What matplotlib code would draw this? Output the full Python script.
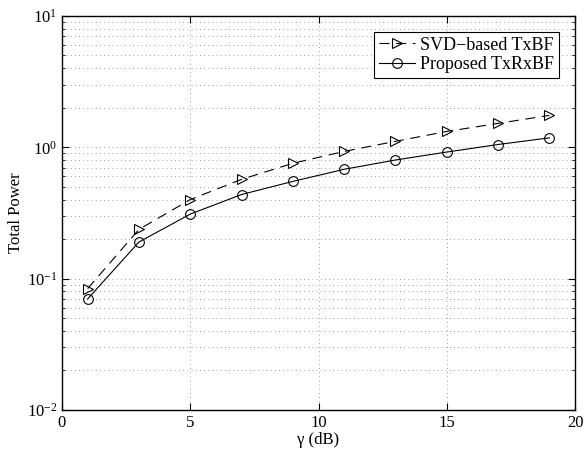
import matplotlib
matplotlib.use('Agg')
import matplotlib.pyplot as plt
from matplotlib.ticker import LogLocator, NullFormatter

plt.rcParams['font.family'] = ['Liberation Serif', 'DejaVu Serif']
plt.rcParams['mathtext.fontset'] = 'stix'

#------------------------------------------------------------------------------
gamma_db = [1, 3, 5, 7, 9, 11, 13, 15, 17, 19]
svd_txbf = [0.084, 0.237, 0.40, 0.57, 0.755, 0.93, 1.11, 1.32, 1.52, 1.75]
proposed_txrxbf = [0.070, 0.19, 0.31, 0.437, 0.55, 0.68, 0.80, 0.92, 1.05, 1.18]

#------------------------------------------------------------------------------
fig = plt.figure(figsize=(5.88, 4.55), dpi=100)
ax = fig.add_axes([0.1054, 0.0989, 0.8726, 0.8661])

ax.semilogy(gamma_db, svd_txbf, 'k', linestyle=(0, (9, 6)), marker='>', markersize=7,
            markerfacecolor='none', markeredgewidth=0.8, linewidth=0.8,
            label='SVD\u2212based TxBF')
ax.semilogy(gamma_db, proposed_txrxbf, 'k-', marker='o', markersize=7,
            markerfacecolor='none', markeredgewidth=0.8, linewidth=0.8,
            label='Proposed TxRxBF')

ax.set_xlim(0, 20)
ax.set_ylim(1e-2, 1e1)
ax.set_xticks([0, 5, 10, 15, 20])
ax.yaxis.set_major_locator(LogLocator(base=10, numticks=10))
ax.yaxis.set_minor_locator(LogLocator(base=10, subs=range(2, 10), numticks=10))
ax.yaxis.set_minor_formatter(NullFormatter())

# matlab style dotted grid
ax.grid(True, which='major', linestyle=(0, (1, 4)), color='0.5', linewidth=0.6)
ax.grid(True, which='minor', axis='y', linestyle=(0, (1, 4)), color='0.5', linewidth=0.6)

ax.tick_params(which='both', direction='in', top=True, right=True, labelsize=12)
ax.tick_params(which='major', length=5)
ax.tick_params(which='minor', length=2.5)
for sp in ax.spines.values():
    sp.set_linewidth(1.0)

ax.set_xlabel('\u03b3 (dB)', fontsize=12, labelpad=1)
ax.set_ylabel('Total Power', fontsize=12, labelpad=2)

leg = ax.legend(loc='upper right', fontsize=13, fancybox=False, framealpha=1,
                edgecolor='k', handlelength=2.0, borderaxespad=0.9,
                handletextpad=0.3, borderpad=0.25, labelspacing=0.15)
leg.get_frame().set_linewidth(0.8)

fig.savefig('out.png', dpi=100)
